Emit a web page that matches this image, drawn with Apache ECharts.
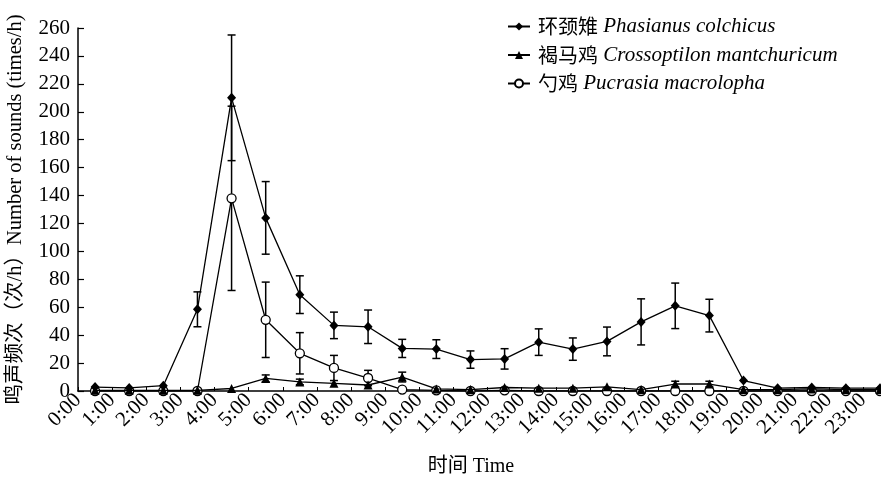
<!DOCTYPE html>
<html>
<head>
<meta charset="utf-8">
<script src="https://cdn.jsdelivr.net/npm/echarts@6/dist/echarts.min.js"></script>
<style>html,body{margin:0;padding:0;background:#fff}#c{width:881px;height:478px}</style>
</head>
<body>
<div id="c"></div>
<script>
const hourLabels = ['0:00','1:00','2:00','3:00','4:00','5:00','6:00','7:00','8:00','9:00','10:00','11:00','12:00','13:00','14:00','15:00','16:00','17:00','18:00','19:00','20:00','21:00','22:00','23:00'];
const pheasantName = '环颈雉 Phasianus colchicus';
const earedName = '褐马鸡 Crossoptilon mantchuricum';
const koklassName = '勺鸡 Pucrasia macrolopha';
const pheasant    = [2.8, 2.2, 3.8, 58.5, 210, 124, 69, 47, 46, 30.5, 30, 22.5, 23, 35, 30, 35.5, 49.5, 61, 54, 7.5, 2, 2.5, 2, 2];
const pheasantErr = [0, 0, 0, 12.5, 45, 26, 13.5, 9.5, 12, 6.5, 6.7, 6.2, 7.3, 9.5, 8, 10.3, 16.5, 16.3, 11.7, 0, 0, 0, 0, 0];
const eared       = [0.5, 0.5, 0.5, 0.5, 1.8, 9, 6.5, 5.5, 4.3, 10, 1.5, 1, 2.5, 2, 2, 3, 1, 5, 5, 1, 1, 1.5, 1, 1];
const earedErr    = [0, 0, 0, 0, 0, 2.5, 2, 0, 0, 3.5, 0, 0, 0, 0, 0, 0, 0, 2, 2, 0, 0, 0, 0, 0];
const koklass     = [0, 0, 0, 0, 138, 51, 27, 16.5, 9.3, 1, 0.5, 0, 0.5, 0, 0, 0, 0, 0, 0, 0, 0, 0, 0, 0];
const koklassErr  = [0, 0, 0, 0, 66, 27, 14.8, 9, 5.5, 0, 0, 0, 0, 0, 0, 0, 0, 0, 0, 0, 0, 0, 0, 0];

const FONT = '"Liberation Serif", "Noto Sans CJK SC", serif';

function pts(vals){ return vals.map((v,i)=>[i+0.5, v]); }
function errs(vals, e){ return vals.map((v,i)=>[i+0.5, v-e[i], v+e[i]]).filter((d,i)=>e[i]>0); }

function errSeries(data, z){
  return {
    type:'custom', data:data, z:z, silent:true,
    encode:{x:0, y:[1,2]},
    renderItem:function(params, api){
      const x = api.value(0);
      const lo = api.coord([x, api.value(1)]);
      const hi = api.coord([x, api.value(2)]);
      const w = 4;
      const st = {stroke:'#000', lineWidth:1.5};
      return {type:'group', children:[
        {type:'line', shape:{x1:lo[0],y1:lo[1],x2:hi[0],y2:hi[1]}, style:st},
        {type:'line', shape:{x1:hi[0]-w,y1:hi[1],x2:hi[0]+w,y2:hi[1]}, style:st},
        {type:'line', shape:{x1:lo[0]-w,y1:lo[1],x2:lo[0]+w,y2:lo[1]}, style:st}
      ]};
    }
  };
}

const chart = echarts.init(document.getElementById('c'), null, {renderer:'canvas'});
chart.setOption({
  animation:false,
  backgroundColor:'#fff',
  textStyle:{fontFamily:FONT, color:'#000'},
  grid:{left:78, right:1, top:28, bottom:87, containLabel:false, outerBoundsMode:'none'},
  legend:{
    left:502, top:11, orient:'vertical', itemGap:7.5, itemWidth:22, itemHeight:10,
    align:'left',
    data:[pheasantName, earedName, koklassName],
    formatter:function(name){
      const i = name.indexOf(' ');
      return '{c|' + name.slice(0,i) + '} {l|' + name.slice(i+1) + '}';
    },
    textStyle:{
      fontFamily:FONT, fontSize:21, color:'#000', padding:[0,0,0,3],
      rich:{c:{fontFamily:'"Noto Sans CJK SC"', fontSize:20, color:'#000'}, l:{fontFamily:'"Liberation Serif"', fontStyle:'italic', fontSize:21, color:'#000'}}
    }
  },
  xAxis:{
    type:'value', min:0, max:23.5, interval:1,
    name:'时间 Time', nameLocation:'middle', nameGap:66,
    nameTextStyle:{fontFamily:FONT, fontSize:20, color:'#000', padding:[0,16,0,0]},
    axisLine:{show:true, onZero:false, lineStyle:{color:'#000', width:1.5}},
    axisTick:{show:true, inside:true, length:4, lineStyle:{color:'#000', width:1}},
    splitLine:{show:false},
    axisLabel:{
      rotate:45, fontSize:21, fontFamily:'"Liberation Serif"', color:'#000', margin:6,
      showMaxLabel:false,
      formatter:function(v){ return Number.isInteger(v) ? (hourLabels[v]||'') : ''; }
    }
  },
  yAxis:{
    type:'value', min:0, max:260, interval:20,
    name:'鸣声频次（次/h）Number of sounds (times/h)', nameLocation:'middle', nameGap:52,
    nameTextStyle:{fontFamily:FONT, fontSize:20.5, color:'#000'},
    axisLine:{show:true, lineStyle:{color:'#000', width:1.5}},
    axisTick:{show:true, inside:true, length:6, lineStyle:{color:'#000', width:1.2}},
    splitLine:{show:false},
    axisLabel:{fontSize:21, fontFamily:'"Liberation Serif"', color:'#000', margin:8}
  },
  series:[
    errSeries(errs(koklass, koklassErr), 2),
    errSeries(errs(eared, earedErr), 2),
    errSeries(errs(pheasant, pheasantErr), 2),
    {name:koklassName, type:'line', data:pts(koklass), z:3, symbol:'circle', symbolSize:9,
      lineStyle:{color:'#000', width:1.3}, itemStyle:{color:'#fff', borderColor:'#000', borderWidth:1.3}},
    {name:earedName, type:'line', data:pts(eared), z:4, symbol:'triangle', symbolSize:9,
      lineStyle:{color:'#000', width:1.3}, itemStyle:{color:'#000', borderColor:'#000', borderWidth:0}},
    {name:pheasantName, type:'line', data:pts(pheasant), z:5, symbol:'diamond', symbolSize:[9,10],
      lineStyle:{color:'#000', width:1.3}, itemStyle:{color:'#000', borderColor:'#000', borderWidth:0}}
  ]
});
</script>
</body>
</html>
